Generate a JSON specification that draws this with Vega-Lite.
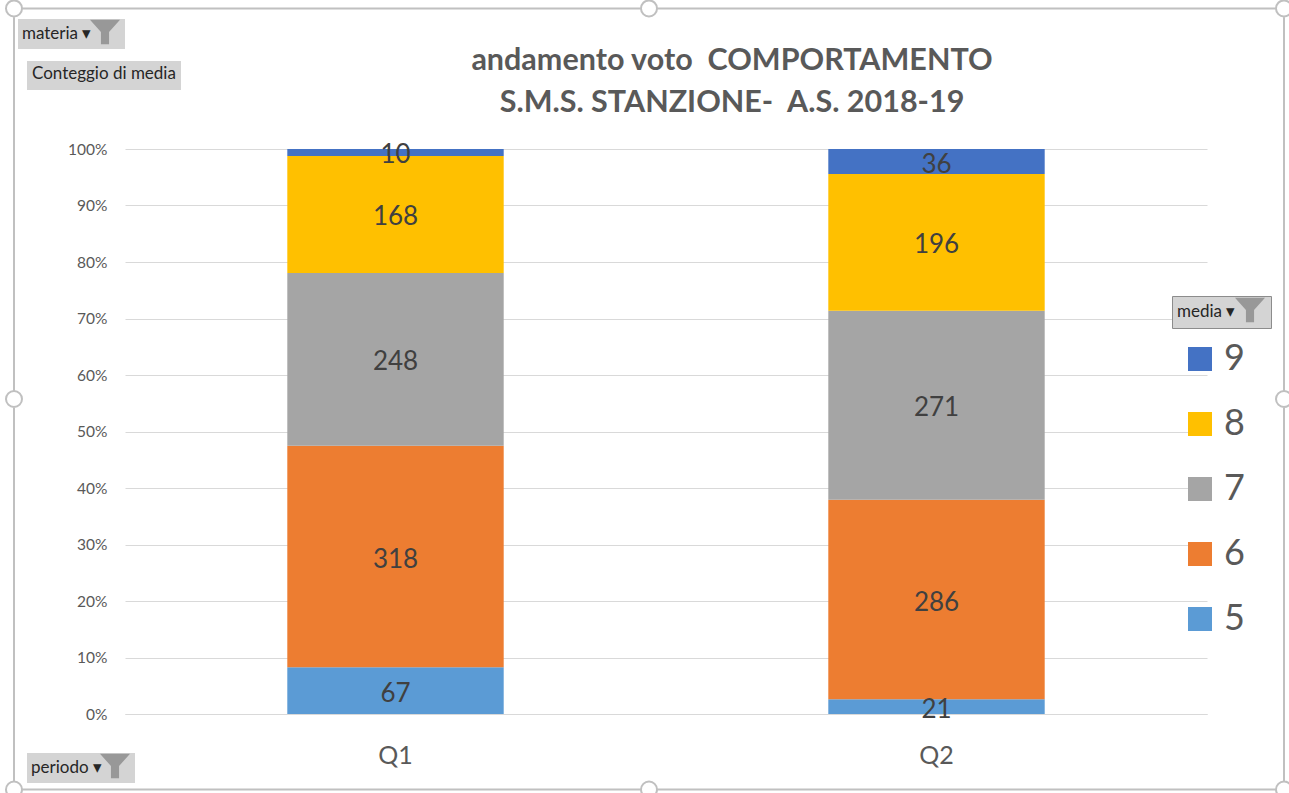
{
"$schema":"https://vega.github.io/schema/vega-lite/v6.json",
"width":1082,"height":565,
"autosize":{"type":"none"},
"padding":{"left":125,"top":149,"right":82,"bottom":79},
"background":"#ffffff",
"config":{"font":"Lato","view":{"stroke":null}},
"title":{"text":["andamento voto \u00a0COMPORTAMENTO","S.M.S. STANZIONE- \u00a0A.S. 2018-19"],"frame":"group","anchor":"middle","dx":66,"fontSize":30.5,"fontWeight":"bold","color":"#595959","lineHeight":42,"offset":-355},
"datasets":{"voti":[
{"periodo":"Q1","media":"5","conteggio":67},
{"periodo":"Q1","media":"6","conteggio":318},
{"periodo":"Q1","media":"7","conteggio":248},
{"periodo":"Q1","media":"8","conteggio":168},
{"periodo":"Q1","media":"9","conteggio":10},
{"periodo":"Q2","media":"5","conteggio":21},
{"periodo":"Q2","media":"6","conteggio":286},
{"periodo":"Q2","media":"7","conteggio":271},
{"periodo":"Q2","media":"8","conteggio":196},
{"periodo":"Q2","media":"9","conteggio":36}
]},
"layer":[
{"data":{"name":"voti"},
 "mark":{"type":"bar"},
 "encoding":{
  "x":{"field":"periodo","type":"nominal","scale":{"paddingInner":0.6,"paddingOuter":0.3},
   "axis":{"title":null,"labelAngle":0,"labelFontSize":25,"labelColor":"#595959","labelPadding":29,"ticks":false,"domainColor":"#d9d9d9"}},
  "y":{"field":"conteggio","type":"quantitative","stack":"normalize",
   "scale":{"domain":[0,1]},
   "axis":{"title":null,"format":"0%","values":[0,0.1,0.2,0.3,0.4,0.5,0.6,0.7,0.8,0.9,1],"labelFontSize":15.5,"labelColor":"#595959","labelPadding":18,"ticks":false,"domain":false,"gridColor":"#d9d9d9","grid":true}},
  "color":{"field":"media","type":"nominal",
   "scale":{"domain":["9","8","7","6","5"],"range":["#4472c4","#ffc000","#a5a5a5","#ed7d31","#5b9bd5"]},
   "legend":{"title":null,"orient":"none","legendX":1057,"legendY":192,"symbolType":"square","symbolSize":576,"symbolStrokeWidth":0,"labelFontSize":36,"labelColor":"#595959","labelOffset":6,"rowPadding":29,"padding":0}},
  "order":{"field":"media","type":"ordinal","sort":"ascending"}
 }},
{"data":{"name":"voti"},
 "mark":{"type":"text","fontSize":26,"color":"#404040","dy":3},
 "encoding":{
  "x":{"field":"periodo","type":"nominal"},
  "y":{"field":"conteggio","type":"quantitative","stack":"normalize","bandPosition":0.5},
  "detail":{"field":"media"},
  "order":{"field":"media","type":"ordinal","sort":"ascending"},
  "text":{"field":"conteggio","type":"quantitative"}
 }},
{"data":{"values":[{"filtro":"materia"}]},
 "mark":{"type":"point","filled":true,"size":0},
 "encoding":{"color":{"field":"filtro","type":"nominal","scale":{"range":["#7f7f7f"]},
  "legend":{"title":"materia ▾","titleOrient":"left","titleFontSize":17,"titleFontWeight":"normal","titleColor":"#262626","titlePadding":4,"labelExpr":"''","labelFontSize":1,"labelOffset":0,"fillColor":"#d4d4d4","padding":4,"orient":"none","legendX":-107,"legendY":-130,"symbolType":"M-1.67,-1.35L1.67,-1.35L0.45,0L0.45,1.35L-0.45,1.35L-0.45,0Z","symbolSize":324,"symbolStrokeWidth":0}}}},
{"data":{"values":[{"filtro":"periodo"}]},
 "mark":{"type":"point","filled":true,"size":0},
 "encoding":{"color":{"field":"filtro","type":"nominal","scale":{"range":["#7f7f7f"]},
  "legend":{"title":"periodo ▾","titleOrient":"left","titleFontSize":17,"titleFontWeight":"normal","titleColor":"#262626","titlePadding":4,"labelExpr":"''","labelFontSize":1,"labelOffset":0,"fillColor":"#d4d4d4","padding":4,"orient":"none","legendX":-98,"legendY":604,"symbolType":"M-1.67,-1.35L1.67,-1.35L0.45,0L0.45,1.35L-0.45,1.35L-0.45,0Z","symbolSize":324,"symbolStrokeWidth":0}}}},
{"data":{"values":[{"filtro":"media"}]},
 "mark":{"type":"point","filled":true,"size":0},
 "encoding":{"color":{"field":"filtro","type":"nominal","scale":{"range":["#7f7f7f"]},
  "legend":{"title":"media ▾","titleOrient":"left","titleFontSize":17,"titleFontWeight":"normal","titleColor":"#262626","titlePadding":5,"labelExpr":"''","labelFontSize":1,"labelOffset":0,"fillColor":"#d4d4d4","strokeColor":"#8c8c8c","padding":5,"orient":"none","legendX":1047,"legendY":147,"symbolType":"M-1.67,-1.35L1.67,-1.35L0.45,0L0.45,1.35L-0.45,1.35L-0.45,0Z","symbolSize":324,"symbolStrokeWidth":0}}}},
{"data":{"values":[{"filtro":"Conteggio di media"}]},
 "mark":{"type":"point","filled":true,"size":0},
 "encoding":{"color":{"field":"filtro","type":"nominal","scale":{"range":["#d4d4d4"]},
  "legend":{"title":"Conteggio di media","titleFontSize":17,"titleFontWeight":"normal","titleColor":"#262626","titlePadding":0,"labelExpr":"''","labelFontSize":1,"labelOffset":0,"fillColor":"#d4d4d4","padding":5,"orient":"none","legendX":-98,"legendY":-88,"symbolType":"square","symbolSize":4,"symbolStrokeWidth":0}}}},
{"data":{"values":[{"filtro":"cornice"}]},
 "mark":{"type":"point","filled":false,"size":0},
 "encoding":{"color":{"field":"filtro","type":"nominal","scale":{"range":["#a6a6a6"]},
  "legend":{"title":null,"labelExpr":"''","labelFontSize":1,"labelOffset":0,"padding":0,"orient":"none","legendX":-112,"legendY":-386,"symbolType":"M-0.987,-0.615L-0.0126,-0.615M0.0126,-0.615L0.987,-0.615M-0.987,0.615L-0.0126,0.615M0.0126,0.615L0.987,0.615M-1,-0.602L-1,-0.0126M-1,0.0126L-1,0.602M1,-0.602L1,-0.0126M1,0.0126L1,0.602M-1.0126,-0.615a0.0126,0.0126 0 1 0 0.0252,0a0.0126,0.0126 0 1 0 -0.0252,0M0.9874,-0.615a0.0126,0.0126 0 1 0 0.0252,0a0.0126,0.0126 0 1 0 -0.0252,0M-1.0126,0.615a0.0126,0.0126 0 1 0 0.0252,0a0.0126,0.0126 0 1 0 -0.0252,0M0.9874,0.615a0.0126,0.0126 0 1 0 0.0252,0a0.0126,0.0126 0 1 0 -0.0252,0M-0.0126,-0.615a0.0126,0.0126 0 1 0 0.0252,0a0.0126,0.0126 0 1 0 -0.0252,0M-0.0126,0.615a0.0126,0.0126 0 1 0 0.0252,0a0.0126,0.0126 0 1 0 -0.0252,0M-1.0126,0a0.0126,0.0126 0 1 0 0.0252,0a0.0126,0.0126 0 1 0 -0.0252,0M0.9874,0a0.0126,0.0126 0 1 0 0.0252,0a0.0126,0.0126 0 1 0 -0.0252,0","symbolSize":1612900,"symbolStrokeWidth":2,"symbolFillColor":"transparent"}}}}
],
"resolve":{"scale":{"color":"independent"},"legend":{"color":"independent"}}
}
